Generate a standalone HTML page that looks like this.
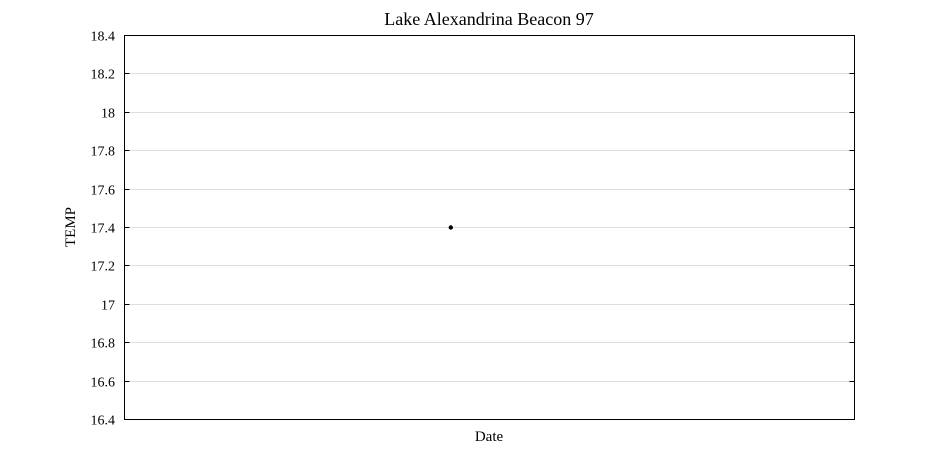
<!DOCTYPE html>
<html><head><meta charset="utf-8"><style>
body{margin:0;background:#fff;}
svg{display:block;font-family:"Liberation Serif",serif;}
</style></head><body>
<svg id="c" width="945" height="472">
<text x="489" y="25" text-anchor="middle" font-size="18" fill="#000">Lake Alexandrina Beacon 97</text>
<text x="489" y="441" text-anchor="middle" font-size="15" fill="#000">Date</text>
<text transform="translate(75,227) rotate(-90)" text-anchor="middle" font-size="15" fill="#000">TEMP</text>
<g id="grid"></g><g id="ticks"></g><g id="marks"></g>
<rect x="124.5" y="35.5" width="730" height="384" fill="none" stroke="#000" stroke-width="1"/>
</svg>
<script>
const yTicks=[16.4,16.6,16.8,17,17.2,17.4,17.6,17.8,18,18.2,18.4];
const yTickLabels=["16.4","16.6","16.8","17","17.2","17.4","17.6","17.8","18","18.2","18.4"];
const xDomain=[0,1000];
const dates=[447];
const temps=[17.4];
const L=124.5,R=854.5,T=35.5,B=419.5;
const ns="http://www.w3.org/2000/svg";
function y(v){return B-(v-16.4)/(18.4-16.4)*(B-T);}
function x(v){return L+(v-xDomain[0])/(xDomain[1]-xDomain[0])*(R-L);}
const grid=document.getElementById('grid'),ticks=document.getElementById('ticks'),marks=document.getElementById('marks');
yTicks.forEach((t,i)=>{
 const yy=Math.round(y(t)-0.5)+0.5;
 if(i>0&&i<yTicks.length-1){
  const g=document.createElementNS(ns,'line');
  g.setAttribute('x1',L);g.setAttribute('x2',R);g.setAttribute('y1',yy);g.setAttribute('y2',yy);
  g.setAttribute('stroke','#dedede');
  
  
  grid.appendChild(g);
 }
 [[L,L+5],[R,R-5]].forEach(p=>{
  const l=document.createElementNS(ns,'line');
  l.setAttribute('x1',p[0]);l.setAttribute('x2',p[1]);l.setAttribute('y1',yy);l.setAttribute('y2',yy);
  l.setAttribute('stroke','#000');
  
  
  ticks.appendChild(l);
 });
 const tx=document.createElementNS(ns,'text');
 tx.setAttribute('x',115);tx.setAttribute('y',yy+5);tx.setAttribute('text-anchor','end');tx.setAttribute('font-size','14');
 tx.textContent=yTickLabels[i];
 
 
 ticks.appendChild(tx);
});
dates.forEach((d,i)=>{
 const c=document.createElementNS(ns,'circle');
 c.setAttribute('cx',x(d));c.setAttribute('cy',y(temps[i]));c.setAttribute('r',2.2);c.setAttribute('fill','#000');
 
 
 marks.appendChild(c);
});
</script>
</body></html>
